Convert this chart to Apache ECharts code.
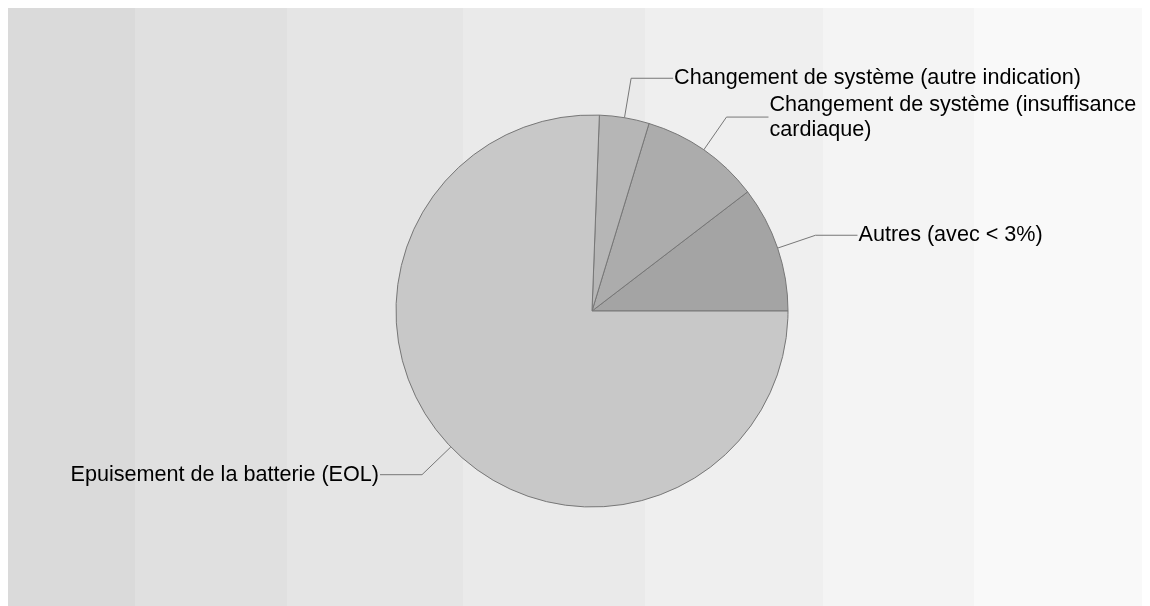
<!DOCTYPE html>
<html>
<head>
<meta charset="utf-8">
<script src="https://cdn.jsdelivr.net/npm/echarts@6/dist/echarts.min.js"></script>
<style>
html,body{margin:0;padding:0;background:#fff;}
#chart{width:1150px;height:606px;}
</style>
</head>
<body>
<div id="chart"></div>
<script>
// Data (order: counter-clockwise from 3 o'clock)
var categories = [
  "Autres (avec < 3%)",
  "Changement de système (insuffisance cardiaque)",
  "Changement de système (autre indication)",
  "Epuisement de la batterie (EOL)"
];
var values = [10.4, 9.9, 4.1, 75.6];
var sliceColors = ["#a4a4a4", "#acacac", "#b6b6b6", "#c8c8c8"];

// Background bands (styling)
var bandEdges = [8, 135, 287, 463, 645, 823, 974, 1142];
var bandColors = ["#dadada", "#e0e0e0", "#e5e5e5", "#eaeaea", "#efefef", "#f4f4f4", "#f9f9f9"];

var graphics = [];
for (var i = 0; i < bandColors.length; i++) {
  graphics.push({
    type: 'rect', z: -10, silent: true,
    shape: {x: bandEdges[i], y: 8, width: bandEdges[i+1] - bandEdges[i], height: 598},
    style: {fill: bandColors[i]}
  });
}

var data = categories.map(function (c, i) {
  var item = {name: c, value: values[i], itemStyle: {color: sliceColors[i]}};
  if (i === 1) {
    item.label = {width: 395, overflow: 'break'};
  }
  return item;
});

var chart = echarts.init(document.getElementById('chart'), null, {renderer: 'canvas'});
chart.setOption({
  animation: false,
  backgroundColor: '#ffffff',
  graphic: graphics,
  series: [{
    type: 'pie',
    center: [592, 311],
    radius: 196,
    startAngle: 0,
    clockwise: false,
    avoidLabelOverlap: false,
    data: data,
    itemStyle: {borderColor: '#777777', borderWidth: 1},
    label: {
      show: true,
      position: 'outside',
      formatter: '{b}',
      color: '#000000',
      fontFamily: 'Liberation Sans, Arial, sans-serif',
      fontSize: 21.6,
      lineHeight: 25,
      distanceToLabelLine: 1
    },
    labelLine: {
      show: true,
      length: 40,
      length2: 42,
      lineStyle: {color: '#777777', width: 1}
    },
    emphasis: {disabled: true}
  }]
});
</script>
</body>
</html>
